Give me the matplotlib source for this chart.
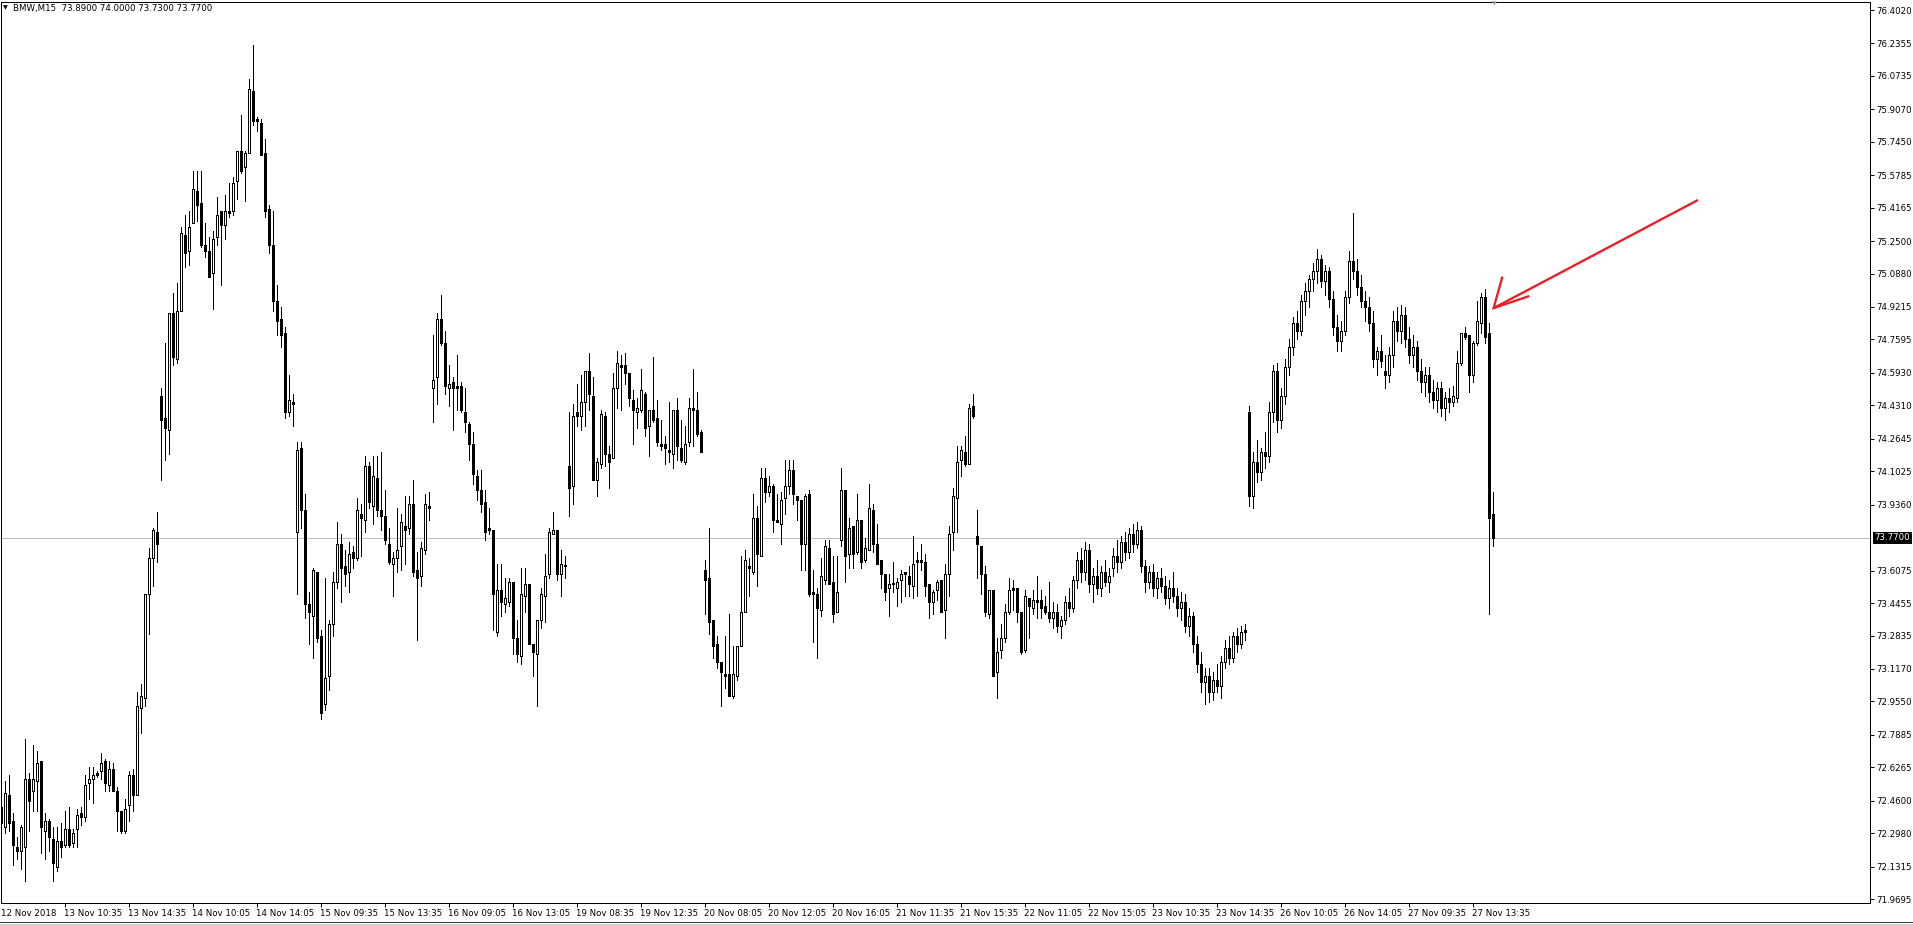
import numpy as np
import matplotlib.pyplot as plt
from matplotlib.lines import Line2D
from matplotlib.transforms import blended_transform_factory

# BMW M15 candles (12 Nov 15:05 .. 27 Nov 14:50)
opens = [
    72.43, 72.33, 72.49, 72.36, 72.23, 72.21, 72.23, 72.57, 72.51, 72.56,
    72.66, 72.31, 72.36, 72.27, 72.13, 72.26, 72.24, 72.32, 72.25, 72.32,
    72.40, 72.38, 72.55, 72.57, 72.60, 72.61, 72.66, 72.54, 72.62, 72.51,
    72.41, 72.31, 72.44, 72.59, 72.49, 72.92, 72.97, 73.49, 73.67, 73.80,
    74.48, 74.37, 74.31, 74.89, 74.66, 74.90, 75.28, 75.20, 75.34, 75.50,
    75.44, 75.23, 75.20, 75.09, 75.27, 75.40, 75.33, 75.40, 75.40, 75.55,
    75.70, 75.62, 75.69, 76.00, 75.86, 75.84, 75.69, 75.41, 75.23, 74.95,
    74.86, 74.79, 74.40, 74.45, 73.80, 74.22, 73.91, 73.44, 73.38, 73.60,
    73.28, 72.94, 73.08, 73.34, 73.55, 73.74, 73.63, 73.60, 73.70, 73.67,
    73.89, 73.86, 74.13, 73.93, 74.07, 73.91, 73.88, 73.74, 73.64, 73.67,
    73.73, 73.83, 73.82, 73.94, 73.61, 73.58, 73.71, 73.93, 74.52, 74.57,
    74.86, 74.74, 74.52, 74.55, 74.53, 74.53, 74.40, 74.34, 74.24, 74.08,
    74.01, 73.95, 73.81, 73.81, 73.30, 73.51, 73.44, 73.45, 73.55, 73.27,
    73.18, 73.48, 73.54, 73.24, 73.19, 73.36, 73.48, 73.59, 73.79, 73.81,
    73.59, 73.63, 74.13, 74.03, 74.40, 74.38, 74.45, 74.60, 74.48, 74.06,
    74.14, 74.38, 74.19, 74.17, 74.52, 74.63, 74.63, 74.59, 74.46, 74.40,
    74.41, 74.49, 74.33, 74.41, 74.37, 74.24, 74.24, 74.21, 74.19, 74.41,
    74.22, 74.15, 74.25, 74.42, 74.41, 74.30, 73.61, 73.57, 73.36, 73.24,
    73.15, 73.09, 73.09, 72.98, 73.08, 73.23, 73.40, 73.63, 73.60, 73.87,
    73.68, 74.07, 74.00, 74.03, 73.86, 73.84, 73.97, 74.03, 74.11, 73.98,
    73.96, 73.74, 73.99, 73.49, 73.49, 73.41, 73.56, 73.72, 73.55, 73.40,
    73.76, 74.01, 73.69, 73.83, 73.70, 73.86, 73.66, 73.71, 73.91, 73.74,
    73.66, 73.59, 73.52, 73.54, 73.52, 73.56, 73.60, 73.58, 73.53, 73.65,
    73.66, 73.65, 73.54, 73.45, 73.51, 73.56, 73.41, 73.59, 73.80, 73.97,
    74.16, 74.20, 74.14, 74.43, 73.78, 73.73, 73.59, 73.39, 73.51, 73.10,
    73.21, 73.27, 73.40, 73.51, 73.52, 73.40, 73.21, 73.47, 73.42, 73.46,
    73.46, 73.43, 73.40, 73.37, 73.40, 73.33, 73.36, 73.45, 73.42, 73.56,
    73.66, 73.60, 73.71, 73.54, 73.58, 73.52, 73.60, 73.55, 73.62, 73.68,
    73.65, 73.75, 73.70, 73.79, 73.74, 73.81, 73.63, 73.55, 73.60, 73.52,
    73.57, 73.53, 73.47, 73.52, 73.48, 73.42, 73.45, 73.33, 73.38, 73.24,
    73.14, 73.05, 73.08, 73.00, 73.06, 73.03, 73.15, 73.22, 73.17, 73.28,
    73.24, 73.30, 74.40, 73.98, 74.15, 74.10, 74.20, 74.18, 74.40, 74.60,
    74.36, 74.48, 74.62, 74.72, 74.84, 74.80, 74.95, 75.00, 75.06, 75.10,
    75.16, 75.05, 75.10, 74.96, 74.82, 74.75, 74.80, 74.97, 75.15, 75.10,
    75.02, 74.95, 74.92, 74.84, 74.66, 74.70, 74.60, 74.58, 74.68, 74.85,
    74.80, 74.88, 74.76, 74.68, 74.72, 74.60, 74.55, 74.58, 74.50, 74.46,
    74.52, 74.42, 74.47, 74.45, 74.47, 74.64, 74.79, 74.78, 74.58, 74.74,
    74.84, 74.97, 74.79, 73.89,
]
highs = [
    72.51, 72.56, 72.59, 72.40, 72.28, 72.34, 72.77, 72.60, 72.74, 72.71,
    72.66, 72.40, 72.37, 72.33, 72.33, 72.35, 72.41, 72.43, 72.32, 72.42,
    72.43, 72.59, 72.63, 72.63, 72.61, 72.70, 72.67, 72.66, 72.65, 72.53,
    72.41, 72.47, 72.61, 72.62, 73.00, 73.04, 73.49, 73.72, 73.82, 73.90,
    74.52, 74.74, 74.89, 74.99, 75.04, 75.32, 75.38, 75.40, 75.60, 75.60,
    75.60, 75.34, 75.27, 75.30, 75.47, 75.40, 75.48, 75.54, 75.57, 75.70,
    75.88, 75.70, 76.06, 76.23, 75.87, 75.86, 75.76, 75.43, 75.40, 75.03,
    74.92, 74.82, 74.58, 74.49, 74.25, 74.25, 73.99, 73.50, 73.62, 73.60,
    73.31, 73.57, 73.36, 73.60, 73.85, 73.79, 73.71, 73.75, 73.73, 73.97,
    73.94, 74.18, 74.15, 74.18, 74.18, 74.20, 74.01, 73.82, 73.70, 73.92,
    73.89, 73.98, 73.98, 74.06, 73.70, 73.75, 73.99, 74.00, 74.78, 74.89,
    74.98, 74.80, 74.63, 74.57, 74.68, 74.55, 74.52, 74.35, 74.30, 74.11,
    74.11, 74.01, 73.92, 73.81, 73.64, 73.64, 73.57, 73.57, 73.55, 73.36,
    73.62, 73.62, 73.54, 73.24, 73.36, 73.52, 73.69, 73.82, 73.90, 73.81,
    73.71, 73.68, 74.40, 74.44, 74.54, 74.58, 74.60, 74.69, 74.57, 74.17,
    74.41, 74.40, 74.23, 74.59, 74.70, 74.68, 74.69, 74.59, 74.51, 74.47,
    74.61, 74.50, 74.41, 74.67, 74.46, 74.36, 74.28, 74.45, 74.41, 74.47,
    74.36, 74.33, 74.47, 74.61, 74.50, 74.31, 73.66, 73.82, 73.36, 73.28,
    73.15, 73.28, 73.39, 73.23, 73.23, 73.68, 73.71, 73.67, 73.99, 73.93,
    74.12, 74.12, 74.08, 74.04, 73.99, 74.00, 74.16, 74.16, 74.16, 73.98,
    73.96, 73.99, 74.01, 73.61, 73.52, 73.67, 73.76, 73.76, 73.68, 73.68,
    74.12, 74.01, 73.87, 73.83, 73.99, 73.86, 73.77, 74.04, 73.94, 73.84,
    73.66, 73.59, 73.59, 73.65, 73.57, 73.61, 73.60, 73.63, 73.78, 73.70,
    73.74, 73.69, 73.54, 73.51, 73.56, 73.56, 73.64, 73.83, 74.02, 74.23,
    74.23, 74.28, 74.44, 74.49, 73.91, 73.73, 73.63, 73.51, 73.51, 73.27,
    73.34, 73.44, 73.57, 73.56, 73.52, 73.40, 73.51, 73.47, 73.51, 73.58,
    73.51, 73.48, 73.55, 73.45, 73.44, 73.38, 73.48, 73.52, 73.58, 73.70,
    73.72, 73.75, 73.74, 73.62, 73.66, 73.63, 73.66, 73.62, 73.72, 73.76,
    73.78, 73.80, 73.82, 73.84, 73.85, 73.83, 73.66, 73.63, 73.64, 73.60,
    73.62, 73.58, 73.56, 73.60, 73.52, 73.50, 73.49, 73.42, 73.40, 73.28,
    73.20, 73.12, 73.12, 73.10, 73.14, 73.18, 73.26, 73.28, 73.30, 73.32,
    73.33, 73.34, 74.43, 74.20, 74.26, 74.22, 74.30, 74.45, 74.63, 74.64,
    74.52, 74.66, 74.76, 74.87, 74.90, 74.98, 75.04, 75.08, 75.14, 75.21,
    75.18, 75.13, 75.12, 75.00, 74.88, 74.85, 75.00, 75.20, 75.39, 75.16,
    75.08, 75.00, 74.97, 74.90, 74.72, 74.78, 74.68, 74.72, 74.90, 74.92,
    74.93, 74.92, 74.82, 74.78, 74.75, 74.66, 74.62, 74.62, 74.56, 74.55,
    74.55, 74.50, 74.52, 74.53, 74.70, 74.79, 74.82, 74.78, 74.75, 74.95,
    74.99, 75.01, 74.84, 74.00,
]
lows = [
    72.25, 72.30, 72.31, 72.14, 72.17, 72.12, 72.06, 72.31, 72.41, 72.41,
    72.20, 72.17, 72.21, 72.06, 72.11, 72.18, 72.23, 72.23, 72.23, 72.23,
    72.34, 72.36, 72.47, 72.45, 72.58, 72.57, 72.51, 72.51, 72.51, 72.31,
    72.30, 72.30, 72.36, 72.41, 72.49, 72.80, 72.93, 73.29, 73.53, 73.65,
    74.06, 74.16, 74.19, 74.63, 74.64, 74.90, 75.12, 75.13, 75.34, 75.35,
    75.22, 75.17, 75.07, 74.91, 75.23, 75.03, 75.26, 75.37, 75.38, 75.46,
    75.59, 75.45, 75.69, 75.83, 75.80, 75.68, 75.37, 75.19, 74.90, 74.78,
    74.72, 74.37, 74.38, 74.33, 73.49, 73.82, 73.37, 73.24, 73.17, 73.25,
    72.87, 72.91, 73.01, 73.28, 73.52, 73.45, 73.53, 73.50, 73.62, 73.66,
    73.68, 73.80, 73.92, 73.84, 73.88, 73.81, 73.74, 73.64, 73.48, 73.60,
    73.61, 73.64, 73.79, 73.58, 73.26, 73.53, 73.69, 73.86, 74.35, 74.44,
    74.73, 74.49, 74.43, 74.31, 74.41, 74.40, 74.30, 74.16, 74.04, 73.96,
    73.90, 73.76, 73.79, 73.31, 73.28, 73.38, 73.40, 73.43, 73.19, 73.15,
    73.14, 73.40, 73.24, 73.08, 72.93, 73.32, 73.35, 73.57, 73.79, 73.56,
    73.48, 73.57, 73.88, 73.94, 74.33, 74.31, 74.33, 74.41, 74.06, 73.98,
    74.12, 74.13, 74.02, 74.17, 74.42, 74.41, 74.54, 74.43, 74.24, 74.32,
    74.40, 74.28, 74.18, 74.35, 74.23, 74.21, 74.14, 74.15, 74.12, 74.16,
    74.15, 74.14, 74.23, 74.23, 74.28, 74.20, 73.39, 73.29, 73.17, 73.12,
    72.93, 73.02, 72.98, 72.97, 73.06, 73.23, 73.40, 73.48, 73.59, 73.53,
    73.68, 73.95, 73.98, 73.80, 73.85, 73.74, 73.89, 73.99, 73.94, 73.86,
    73.61, 73.61, 73.48, 73.25, 73.17, 73.38, 73.54, 73.54, 73.35, 73.40,
    73.73, 73.55, 73.62, 73.62, 73.69, 73.62, 73.65, 73.71, 73.70, 73.64,
    73.52, 73.46, 73.38, 73.50, 73.43, 73.45, 73.48, 73.48, 73.47, 73.48,
    73.61, 73.48, 73.37, 73.39, 73.46, 73.40, 73.27, 73.48, 73.71, 73.80,
    74.08, 74.13, 74.14, 74.37, 73.57, 73.49, 73.38, 73.37, 73.08, 72.97,
    73.17, 73.25, 73.39, 73.41, 73.35, 73.19, 73.20, 73.27, 73.39, 73.37,
    73.37, 73.39, 73.35, 73.32, 73.30, 73.27, 73.34, 73.38, 73.40, 73.52,
    73.55, 73.56, 73.50, 73.45, 73.49, 73.48, 73.53, 73.50, 73.58, 73.60,
    73.62, 73.66, 73.67, 73.70, 73.72, 73.60, 73.50, 73.52, 73.48, 73.47,
    73.50, 73.44, 73.42, 73.45, 73.38, 73.36, 73.30, 73.28, 73.20, 73.10,
    73.00, 72.94, 72.95, 72.96, 73.00, 72.97, 73.12, 73.14, 73.15, 73.20,
    73.22, 73.26, 73.93, 73.92, 74.05, 74.06, 74.12, 74.15, 74.35, 74.30,
    74.32, 74.44, 74.58, 74.68, 74.76, 74.78, 74.88, 74.92, 75.00, 75.04,
    75.02, 74.98, 74.92, 74.78, 74.70, 74.70, 74.78, 74.94, 75.06, 74.98,
    74.92, 74.85, 74.80, 74.62, 74.58, 74.62, 74.52, 74.55, 74.62, 74.75,
    74.74, 74.72, 74.64, 74.62, 74.56, 74.50, 74.48, 74.45, 74.42, 74.40,
    74.38, 74.36, 74.40, 74.43, 74.45, 74.63, 74.76, 74.50, 74.55, 74.73,
    74.79, 74.74, 73.39, 73.73,
]
closes = [
    72.35, 72.50, 72.35, 72.24, 72.21, 72.33, 72.57, 72.46, 72.57, 72.65,
    72.33, 72.36, 72.28, 72.15, 72.26, 72.23, 72.32, 72.24, 72.30, 72.39,
    72.38, 72.54, 72.57, 72.59, 72.59, 72.65, 72.55, 72.62, 72.51, 72.41,
    72.31, 72.42, 72.59, 72.49, 72.93, 72.98, 73.49, 73.67, 73.81, 73.74,
    74.36, 74.32, 74.89, 74.67, 74.90, 75.29, 75.19, 75.32, 75.51, 75.43,
    75.23, 75.20, 75.07, 75.26, 75.38, 75.33, 75.40, 75.39, 75.54, 75.70,
    75.60, 75.69, 76.01, 75.85, 75.85, 75.68, 75.40, 75.23, 74.95, 74.85,
    74.78, 74.40, 74.46, 74.44, 74.21, 73.91, 73.44, 73.40, 73.61, 73.27,
    72.90, 73.07, 73.34, 73.55, 73.74, 73.62, 73.59, 73.69, 73.67, 73.91,
    73.87, 74.13, 73.95, 74.08, 73.91, 73.88, 73.76, 73.65, 73.67, 73.71,
    73.85, 73.81, 73.94, 73.60, 73.57, 73.72, 73.94, 73.92, 74.56, 74.86,
    74.74, 74.53, 74.54, 74.52, 74.52, 74.41, 74.35, 74.24, 74.09, 74.01,
    73.94, 73.80, 73.82, 73.49, 73.51, 73.45, 73.47, 73.55, 73.27, 73.19,
    73.49, 73.54, 73.24, 73.20, 73.36, 73.49, 73.58, 73.80, 73.81, 73.59,
    73.64, 73.63, 74.02, 74.38, 74.38, 74.45, 74.60, 74.49, 74.06, 74.15,
    74.39, 74.19, 74.15, 74.52, 74.64, 74.62, 74.59, 74.47, 74.41, 74.42,
    74.51, 74.32, 74.41, 74.36, 74.25, 74.23, 74.22, 74.20, 74.41, 74.23,
    74.16, 74.24, 74.42, 74.41, 74.29, 74.20, 73.56, 73.35, 73.23, 73.15,
    73.10, 73.08, 72.98, 73.09, 73.23, 73.40, 73.66, 73.62, 73.87, 73.69,
    74.07, 74.00, 74.03, 73.86, 73.85, 73.96, 74.03, 74.11, 73.99, 73.96,
    73.74, 73.98, 73.49, 73.50, 73.42, 73.58, 73.73, 73.54, 73.39, 73.50,
    74.01, 73.68, 73.82, 73.69, 73.86, 73.65, 73.72, 73.92, 73.74, 73.64,
    73.59, 73.50, 73.54, 73.54, 73.55, 73.59, 73.59, 73.54, 73.64, 73.66,
    73.65, 73.53, 73.45, 73.50, 73.55, 73.40, 73.59, 73.79, 73.98, 74.15,
    74.21, 74.14, 74.42, 74.38, 73.74, 73.59, 73.40, 73.51, 73.08, 73.20,
    73.27, 73.40, 73.51, 73.52, 73.40, 73.20, 73.48, 73.43, 73.46, 73.45,
    73.42, 73.40, 73.37, 73.40, 73.33, 73.36, 73.45, 73.42, 73.56, 73.66,
    73.60, 73.71, 73.54, 73.58, 73.52, 73.60, 73.55, 73.58, 73.68, 73.65,
    73.75, 73.70, 73.79, 73.74, 73.81, 73.63, 73.55, 73.60, 73.52, 73.57,
    73.53, 73.47, 73.52, 73.48, 73.42, 73.45, 73.33, 73.38, 73.24, 73.14,
    73.05, 73.08, 73.00, 73.06, 73.03, 73.15, 73.22, 73.17, 73.28, 73.24,
    73.30, 73.31, 73.98, 74.15, 74.10, 74.20, 74.18, 74.40, 74.60, 74.36,
    74.48, 74.62, 74.72, 74.84, 74.80, 74.95, 75.00, 75.06, 75.10, 75.16,
    75.05, 75.10, 74.96, 74.82, 74.75, 74.80, 74.97, 75.15, 75.10, 75.02,
    74.95, 74.92, 74.84, 74.66, 74.70, 74.65, 74.58, 74.68, 74.85, 74.80,
    74.88, 74.76, 74.68, 74.72, 74.60, 74.55, 74.58, 74.50, 74.46, 74.52,
    74.42, 74.47, 74.45, 74.48, 74.64, 74.79, 74.77, 74.58, 74.74, 74.85,
    74.97, 74.77, 73.87, 73.77,
]

price_ticks = [76.4020, 76.2355, 76.0735, 75.9070, 75.7450, 75.5785, 75.4165,
               75.2500, 75.0880, 74.9215, 74.7595, 74.5930, 74.4310, 74.2645,
               74.1025, 73.9360, 73.6075, 73.4455, 73.2835, 73.1170, 72.9550,
               72.7885, 72.6265, 72.4600, 72.2980, 72.1315, 71.9695]
time_labels = ["12 Nov 2018", "13 Nov 10:35", "13 Nov 14:35", "14 Nov 10:05",
               "14 Nov 14:05", "15 Nov 09:35", "15 Nov 13:35", "16 Nov 09:05",
               "16 Nov 13:05", "19 Nov 08:35", "19 Nov 12:35", "20 Nov 08:05",
               "20 Nov 12:05", "20 Nov 16:05", "21 Nov 11:35", "21 Nov 15:35",
               "22 Nov 11:05", "22 Nov 15:05", "23 Nov 10:35", "23 Nov 14:35",
               "26 Nov 10:05", "26 Nov 14:05", "27 Nov 09:35", "27 Nov 13:35"]
bars_per_label = 16
last_price = 73.77
header = "BMW,M15  73.8900 74.0000 73.7300 73.7700"

W, H = 1913, 925
PX = 0.72  # one pixel in points at dpi 100
FS = 6.2

o = np.array(opens)
h = np.array(highs)
l = np.array(lows)
c = np.array(closes)
x = np.arange(len(o))

fig = plt.figure(figsize=(W / 100, H / 100), dpi=100)
fig.patch.set_facecolor("white")
ax = fig.add_axes([0.5 / W, 1 - 903 / H, 1869.5 / W, 901.5 / H])

# price scale: 200.6 px per unit, 76.402 at y=10 px
ppu = 200.6
ax.set_ylim(76.402 - (903 - 10) / ppu, 76.402 + (10 - 1.5) / ppu)
ax.set_xlim(-0.1, 467.3)

ax.axhline(last_price, color="#c0c0c0", lw=PX, zorder=1)

# wicks
ax.vlines(x, l, h, color="black", lw=PX, antialiased=False, zorder=2)
# bodies: black 3px, white ones get a 1px hollow centre
top = np.maximum(o, c)
bot = np.minimum(o, c)
top = np.where(top - bot < 1.0 / ppu, bot + 1.0 / ppu, top)
ax.vlines(x, bot, top, color="black", lw=3 * PX, antialiased=False, zorder=3)
up = (c >= o) & (top - bot > 2.5 / ppu)
ax.vlines(x[up], bot[up] + 1.0 / ppu, top[up] - 1.0 / ppu, color="white",
          lw=PX, antialiased=False, zorder=4)

# red arrow
red = "#ed1c24"
tip = (373.2, 74.916)
ax.plot([tip[0], 424.3], [tip[1], 75.455], color=red, lw=2.3 * PX,
        solid_capstyle="butt", clip_on=False, zorder=5)
ax.plot([375.4, tip[0], 382.1], [75.073, tip[1], 74.976], color=red,
        lw=2.3 * PX, solid_capstyle="butt", solid_joinstyle="miter",
        clip_on=False, zorder=5)

# frame
for s in ax.spines.values():
    s.set_linewidth(PX)
    s.set_color("black")

# right price scale
ax.yaxis.tick_right()
ax.set_yticks(price_ticks)
ax.set_yticklabels([f"{v:.4f}" for v in price_ticks])
ax.tick_params(axis="y", direction="out", length=4 * PX, width=PX,
               pad=2 * PX, labelsize=FS, colors="black")
trans = blended_transform_factory(ax.transAxes, ax.transData)
ax.text(1.0025, last_price, f"{last_price:.4f}", transform=trans, ha="left",
        va="center", fontsize=FS, color="white",
        bbox=dict(facecolor="black", edgecolor="none", pad=1.2))

# time scale
tick_pos = np.arange(len(time_labels)) * bars_per_label
ax.set_xticks(tick_pos[1:])
ax.set_xticklabels([])
ax.tick_params(axis="x", direction="out", length=4 * PX, width=PX)
xt = ax.get_xaxis_transform()
for i, (p, lab) in enumerate(zip(tick_pos, time_labels)):
    ax.text(p + (0.0 if i == 0 else -0.3), -0.0115, lab, transform=xt,
            ha="left", va="center", fontsize=FS, clip_on=False)

# header and markers
fig.text(3 / W, 1 - 8 / H, "\u25bc", fontsize=4.5, ha="left", va="center")
fig.text(13 / W, 1 - 8 / H, header, fontsize=FS, ha="left", va="center")
fig.text(1494 / W, 1 - 4 / H, "\u25bc", fontsize=4.5, ha="center",
         va="center", color="#a0a0a0")
fig.add_artist(Line2D([0, 1], [1 - 922 / H] * 2, color="#404040", lw=PX))
fig.add_artist(Line2D([0, 1], [1 - 924 / H] * 2, color="#d0d0d0", lw=PX))

fig.savefig("out.png", dpi=100, facecolor="white")
